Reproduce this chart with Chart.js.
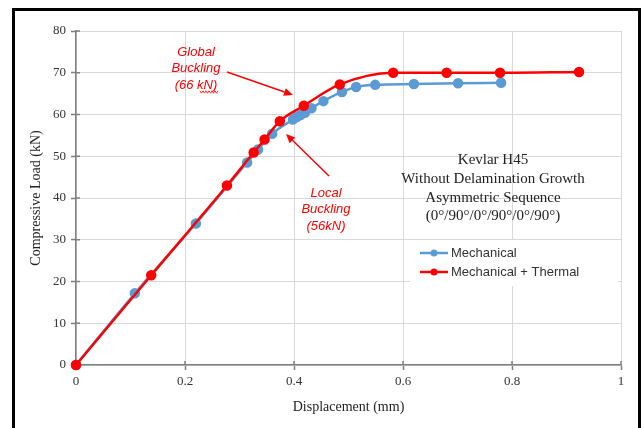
<!DOCTYPE html>
<html><head><meta charset="utf-8">
<script src="https://cdn.jsdelivr.net/npm/chart.js@4/dist/chart.umd.min.js"></script>
<style>html,body{margin:0;padding:0;background:#fff;}#wrap{position:absolute;left:0;top:0;width:641px;height:428px;}</style>
</head><body><div id="wrap"><canvas id="c" width="641" height="428"></canvas></div>
<script>
// Data
const mechX = [0, 0.108, 0.220, 0.314, 0.334, 0.360, 0.398, 0.405, 0.412, 0.420, 0.432, 0.454, 0.488, 0.514, 0.549, 0.620, 0.701, 0.780];
const mechY = [0, 17.2, 33.9, 48.5, 51.6, 55.4, 58.8, 59.4, 59.9, 60.4, 61.5, 63.2, 65.4, 66.6, 67.1, 67.3, 67.5, 67.6];
const thermX = [0, 0.138, 0.277, 0.326, 0.346, 0.374, 0.418, 0.484, 0.582, 0.680, 0.778, 0.923];
const thermY = [0, 21.5, 43.0, 50.9, 54.0, 58.4, 62.1, 67.2, 70.0, 70.0, 70.0, 70.2];
const xTickLabels = ['0', '0.2', '0.4', '0.6', '0.8', '1'];
const yTickLabels = ['0', '10', '20', '30', '40', '50', '60', '70', '80'];
const seriesNames = ['Mechanical', 'Mechanical + Thermal'];
const infoLines = ['Kevlar H45', 'Without Delamination Growth', 'Asymmetric Sequence', '(0°/90°/0°/90°/0°/90°)'];
const globalNote = ['Global', 'Buckling', '(66 kN)'];
const localNote = ['Local', 'Buckling', '(56kN)'];

const BLUE = '#5B9BD5', RED = '#FF0000', AXIS = '#7F7F7F', GRID = '#D9D9D9';
const toPts = (xs, ys) => xs.map((x, i) => ({x: x, y: ys[i]}));

function arrow(ctx, x1, y1, x2, y2) {
  const a = Math.atan2(y2 - y1, x2 - x1), L = 9, W = 4;
  ctx.beginPath(); ctx.moveTo(x1, y1);
  ctx.lineTo(x2 - L * Math.cos(a), y2 - L * Math.sin(a)); ctx.stroke();
  ctx.beginPath(); ctx.moveTo(x2, y2);
  ctx.lineTo(x2 - L * Math.cos(a) + W * Math.sin(a), y2 - L * Math.sin(a) - W * Math.cos(a));
  ctx.lineTo(x2 - L * Math.cos(a) - W * Math.sin(a), y2 - L * Math.sin(a) + W * Math.cos(a));
  ctx.closePath(); ctx.fill();
}

const decor = {
  id: 'decor',
  beforeDatasetsDraw(chart) {
    const ctx = chart.ctx, xs = chart.scales.x, ys = chart.scales.y;
    ctx.save();
    ctx.fillStyle = '#fff';
    ctx.fillRect(410, 240, 208, 46);
    ctx.strokeStyle = AXIS; ctx.lineWidth = 1.5;
    ys.ticks.forEach((t, i) => { const p = ys.getPixelForTick(i); ctx.beginPath(); ctx.moveTo(xs.left, p); ctx.lineTo(xs.left + 4, p); ctx.stroke(); });
    xs.ticks.forEach((t, i) => { const p = xs.getPixelForTick(i); ctx.beginPath(); ctx.moveTo(p, ys.bottom); ctx.lineTo(p, ys.bottom - 4); ctx.stroke(); });
    ctx.restore();
  },
  afterDraw(chart) {
    const ctx = chart.ctx;
    ctx.save();
    ctx.strokeStyle = '#000'; ctx.lineWidth = 3;
    ctx.beginPath(); ctx.moveTo(13.5, 440); ctx.lineTo(13.5, 9.5); ctx.lineTo(639.5, 9.5); ctx.lineTo(639.5, 440); ctx.stroke();
    ctx.fillStyle = '#222'; ctx.font = '15px "Liberation Serif"'; ctx.textAlign = 'center'; ctx.textBaseline = 'middle';
    const iy = [160, 179, 198, 216];
    infoLines.forEach((s, i) => ctx.fillText(s, 493, iy[i]));
    const ly = [253, 272], cols = [BLUE, RED];
    ctx.font = '13px "Liberation Sans"'; ctx.textAlign = 'left';
    ly.forEach((y, i) => {
      ctx.strokeStyle = cols[i]; ctx.lineWidth = 2.5;
      ctx.beginPath(); ctx.moveTo(420, y); ctx.lineTo(448, y); ctx.stroke();
      ctx.fillStyle = cols[i]; ctx.beginPath(); ctx.arc(434, y, 3.5, 0, Math.PI * 2); ctx.fill();
      ctx.fillStyle = '#333'; ctx.fillText(seriesNames[i], 451, y + 0.5);
    });
    ctx.fillStyle = RED; ctx.strokeStyle = RED; ctx.lineWidth = 1.5;
    ctx.font = 'italic 13px "Liberation Sans"'; ctx.textAlign = 'center';
    const gy = [52, 68, 85];
    globalNote.forEach((s, i) => ctx.fillText(s, 196, gy[i]));
    const ly2 = [193, 209, 226];
    localNote.forEach((s, i) => ctx.fillText(s, 326, ly2[i]));
    ctx.lineWidth = 0.8;
    ctx.beginPath();
    for (let k = 0; k <= 12; k++) { const x = 200 + k * 1.5, y = 92 + (k % 2 ? 1.2 : -1.2); k ? ctx.lineTo(x, y) : ctx.moveTo(x, y); }
    ctx.stroke();
    ctx.lineWidth = 1.5;
    arrow(ctx, 227, 72, 293, 95);
    arrow(ctx, 329, 176, 286, 134);
    ctx.restore();
  }
};

new Chart(document.getElementById('c'), {
  type: 'scatter',
  data: {
    datasets: [
      {label: seriesNames[0], order: 2, clip: 8, data: toPts(mechX, mechY), showLine: true, cubicInterpolationMode: 'monotone', borderColor: BLUE, backgroundColor: BLUE, borderWidth: 2.5, pointRadius: 4, pointHoverRadius: 4},
      {label: seriesNames[1], order: 1, clip: 8, data: toPts(thermX, thermY), showLine: true, cubicInterpolationMode: 'monotone', borderColor: RED, backgroundColor: RED, borderWidth: 2.5, pointRadius: 4, pointHoverRadius: 4}
    ]
  },
  options: {
    responsive: false, animation: false,
    layout: {padding: {left: 20, right: 20, top: 31, bottom: 8}},
    plugins: {legend: {display: false}, tooltip: {enabled: false}},
    scales: {
      x: {
        type: 'linear', min: 0, max: 1,
        afterBuildTicks: s => { s.ticks = xTickLabels.map(v => ({value: parseFloat(v)})); },
        afterFit: s => { s.height = 55; },
        grid: {color: GRID, lineWidth: 1, tickLength: 5, tickColor: AXIS, tickWidth: 1.5},
        border: {color: AXIS, width: 1.5},
        ticks: {callback: (v, i) => xTickLabels[i], font: {family: 'Liberation Serif', size: 13}, color: '#333', padding: 4, maxRotation: 0},
        title: {display: true, text: 'Displacement (mm)', font: {family: 'Liberation Serif', size: 14}, color: '#222', padding: {top: 2}}
      },
      y: {
        type: 'linear', min: 0, max: 80,
        afterBuildTicks: s => { s.ticks = yTickLabels.map(v => ({value: parseFloat(v)})); },
        afterFit: s => { s.width = 56; },
        grid: {color: GRID, lineWidth: 1, tickLength: 5, tickColor: AXIS, tickWidth: 1.5},
        border: {color: AXIS, width: 1.5},
        ticks: {callback: (v, i) => yTickLabels[i], font: {family: 'Liberation Serif', size: 13}, color: '#333', padding: 5},
        title: {display: true, text: 'Compressive Load (kN)', font: {family: 'Liberation Serif', size: 14}, color: '#222', padding: {top: 8, bottom: 2}}
      }
    }
  },
  plugins: [decor]
});
</script></body></html>
